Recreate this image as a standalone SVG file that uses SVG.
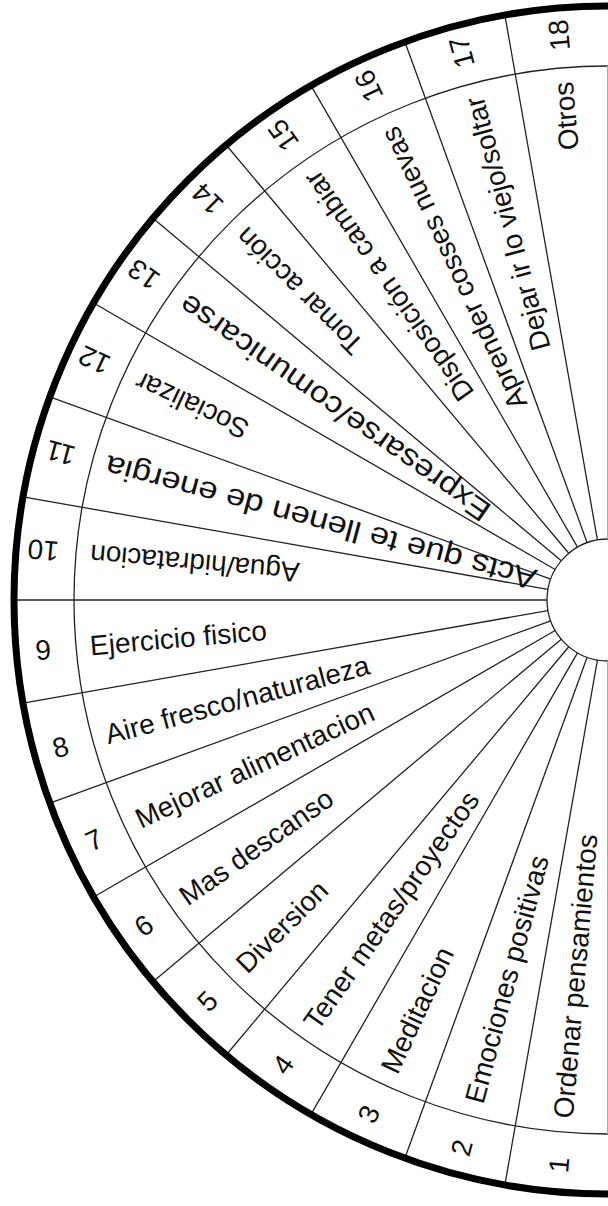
<svg xmlns="http://www.w3.org/2000/svg" width="608" height="1206" viewBox="0 0 608 1206">
<style>
.ln{stroke:#222;stroke-width:1.3;fill:none}
.out{stroke:#000;stroke-width:7;fill:none}
.t{font-family:"Liberation Sans",Arial,sans-serif;font-size:28px;fill:#111}
.n{text-anchor:middle}
.e{text-anchor:end}
.big{font-size:30px}
</style>
<rect width="608" height="1206" fill="#fff"/>
<g id="connectors" transform="translate(608,600)">
<g class="ln">
<line x1="0" y1="61" x2="0" y2="594" transform="rotate(10)"/>
<line x1="0" y1="61" x2="0" y2="594" transform="rotate(20)"/>
<line x1="0" y1="61" x2="0" y2="594" transform="rotate(30)"/>
<line x1="0" y1="61" x2="0" y2="594" transform="rotate(40)"/>
<line x1="0" y1="61" x2="0" y2="594" transform="rotate(50)"/>
<line x1="0" y1="61" x2="0" y2="594" transform="rotate(60)"/>
<line x1="0" y1="61" x2="0" y2="594" transform="rotate(70)"/>
<line x1="0" y1="61" x2="0" y2="594" transform="rotate(80)"/>
<line x1="0" y1="61" x2="0" y2="594" transform="rotate(90)"/>
<line x1="0" y1="61" x2="0" y2="594" transform="rotate(100)"/>
<line x1="0" y1="61" x2="0" y2="594" transform="rotate(110)"/>
<line x1="0" y1="61" x2="0" y2="594" transform="rotate(120)"/>
<line x1="0" y1="61" x2="0" y2="594" transform="rotate(130)"/>
<line x1="0" y1="61" x2="0" y2="594" transform="rotate(140)"/>
<line x1="0" y1="61" x2="0" y2="594" transform="rotate(150)"/>
<line x1="0" y1="61" x2="0" y2="594" transform="rotate(160)"/>
<line x1="0" y1="61" x2="0" y2="594" transform="rotate(170)"/>
<path d="M0 -534 A534 534 0 0 0 0 534"/>
<path d="M0 -61 A61 61 0 0 0 0 61"/>
</g>
<g stroke="#aaa" stroke-width="1">
<line x1="-0.5" y1="-534" x2="-0.5" y2="-61"/>
<line x1="-0.5" y1="61" x2="-0.5" y2="534"/>
</g>
<path class="out" d="M0 -594 A594 594 0 0 0 0 594"/>
</g>
<g transform="translate(608,600)" class="t">
<g id="s1" transform="rotate(5)"><text class="n" transform="translate(0,567) rotate(-90)" dy="0.36em">1</text><text transform="translate(0,520) rotate(-90)" dy="0.36em">Ordenar pensamientos</text></g>
<g id="s2" transform="rotate(15)"><text class="n" transform="translate(0,567) rotate(-90)" dy="0.36em">2</text><text transform="translate(0,520) rotate(-90)" dy="0.36em">Emociones positivas</text></g>
<g id="s3" transform="rotate(25)"><text class="n" transform="translate(0,567) rotate(-90)" dy="0.36em">3</text><text transform="translate(0,520) rotate(-90)" dy="0.36em">Meditacion</text></g>
<g id="s4" transform="rotate(35)"><text class="n" transform="translate(0,567) rotate(-90)" dy="0.36em">4</text><text transform="translate(0,520) rotate(-90)" dy="0.36em">Tener metas/proyectos</text></g>
<g id="s5" transform="rotate(45)"><text class="n" transform="translate(0,567) rotate(-90)" dy="0.36em">5</text><text transform="translate(0,520) rotate(-90)" dy="0.36em">Diversion</text></g>
<g id="s6" transform="rotate(55)"><text class="n" transform="translate(0,567) rotate(-90)" dy="0.36em">6</text><text transform="translate(0,520) rotate(-90)" dy="0.36em">Mas descanso</text></g>
<g id="s7" transform="rotate(65)"><text class="n" transform="translate(0,567) rotate(-90)" dy="0.36em">7</text><text transform="translate(0,520) rotate(-90)" dy="0.36em">Mejorar alimentacion</text></g>
<g id="s8" transform="rotate(75)"><text class="n" transform="translate(0,567) rotate(-90)" dy="0.36em">8</text><text transform="translate(0,520) rotate(-90)" dy="0.36em">Aire fresco/naturaleza</text></g>
<g id="s9" transform="rotate(85)"><text class="n" transform="translate(0,567) rotate(-90)" dy="0.36em">9</text><text transform="translate(0,520) rotate(-90)" dy="0.36em">Ejercicio fisico</text></g>
<g id="s10" transform="rotate(95)"><text class="n" transform="translate(0,567) rotate(90)" dy="0.36em">10</text><text class="e" transform="translate(0,520) rotate(90)" dy="0.36em">Agua/hidratacion</text></g>
<g id="s11" transform="rotate(105)"><text class="n" transform="translate(0,567) rotate(90)" dy="0.36em">11</text><text class="e big" transform="translate(0,520) rotate(90)" dy="0.36em" textLength="445" lengthAdjust="spacingAndGlyphs">Acts que te llenen de energia</text></g>
<g id="s12" transform="rotate(115)"><text class="n" transform="translate(0,567) rotate(90)" dy="0.36em">12</text><text class="e" transform="translate(0,520) rotate(90)" dy="0.36em">Socializar</text></g>
<g id="s13" transform="rotate(125)"><text class="n" transform="translate(0,567) rotate(90)" dy="0.36em">13</text><text class="e big" transform="translate(0,520) rotate(90)" dy="0.36em" textLength="372" lengthAdjust="spacingAndGlyphs">Expresarse/comunicarse</text></g>
<g id="s14" transform="rotate(135)"><text class="n" transform="translate(0,567) rotate(90)" dy="0.36em">14</text><text class="e" transform="translate(0,520) rotate(90)" dy="0.36em">Tomar acción</text></g>
<g id="s15" transform="rotate(145)"><text class="n" transform="translate(0,567) rotate(90)" dy="0.36em">15</text><text class="e" transform="translate(0,520) rotate(90)" dy="0.36em">Disposición a cambiar</text></g>
<g id="s16" transform="rotate(155)"><text class="n" transform="translate(0,567) rotate(90)" dy="0.36em">16</text><text class="e" transform="translate(0,520) rotate(90)" dy="0.36em">Aprender cosses nuevas</text></g>
<g id="s17" transform="rotate(165)"><text class="n" transform="translate(0,567) rotate(90)" dy="0.36em">17</text><text class="e" transform="translate(0,520) rotate(90)" dy="0.36em">Dejar ir lo viejo/soltar</text></g>
<g id="s18" transform="rotate(175)"><text class="n" transform="translate(0,567) rotate(90)" dy="0.36em">18</text><text class="e" transform="translate(0,520) rotate(90)" dy="0.36em">Otros</text></g>
</g>
</svg>
